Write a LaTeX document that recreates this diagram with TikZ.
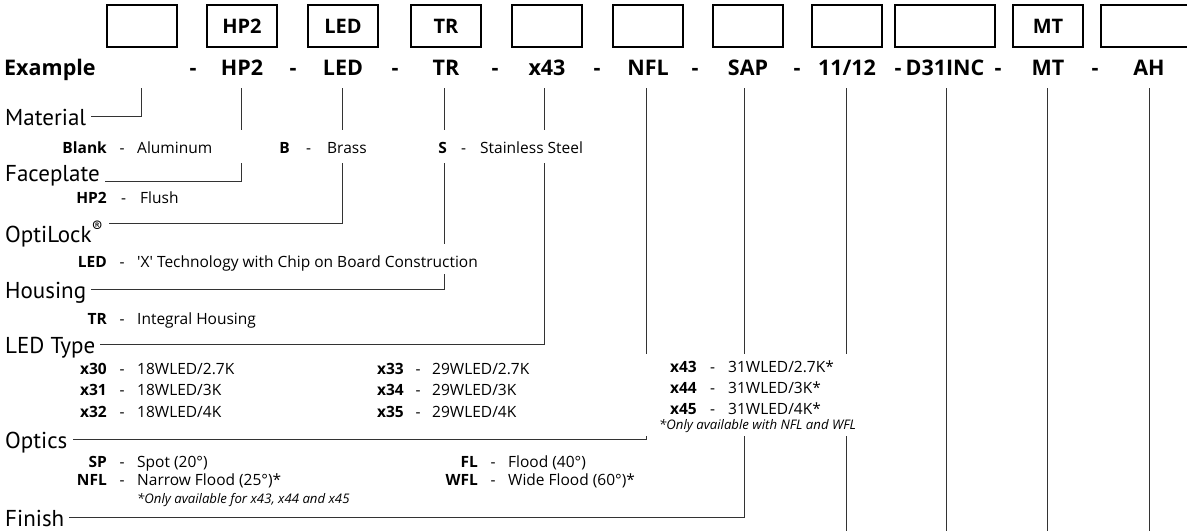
\documentclass[tikz,border=0pt]{standalone}
\usepackage{fontspec}
\setmainfont{PT Sans}
\newfontfamily\optfont{Open Sans}
\begin{document}
\begin{tikzpicture}[x=1pt,y=-1pt,
    codebox/.style={draw,line width=1.4pt,minimum height=42pt,inner sep=0pt,
      font=\optfont\fontsize{20}{20}\selectfont\bfseries},
    code/.style={anchor=base,inner sep=0pt,font=\optfont\fontsize{21.5}{21.5}\selectfont\bfseries},
    heading/.style={anchor=base west,inner xsep=5pt,inner ysep=0pt,
      text height=18pt,text depth=0pt,font=\fontsize{23}{23}\selectfont},
    key/.style={anchor=base east,inner sep=0pt,font=\optfont\fontsize{15.5}{15.5}\selectfont\bfseries},
    desc/.style={anchor=base west,inner sep=0pt,font=\optfont\fontsize{15.5}{15.5}\selectfont},
    fnote/.style={anchor=base west,inner sep=0pt,font=\optfont\fontsize{13.2}{13.2}\selectfont\itshape},
    lead/.style={draw=black!80,line width=1pt}]
  \useasboundingbox (0,0) rectangle (1187,531);

  % Code boxes, example codes and the tops of the leader lines
  \foreach \i/\x/\w/\boxtxt/\code in {1/142/70/{}/{}, 2/242/70/HP2/HP2, 3/343/70/LED/LED,
      4/446/70/TR/TR, 5/547/70/{}/x43, 6/648/70/{}/NFL, 7/748/70/{}/SAP,
      8/847/70/{}/11\slash 12, 9/945/100/{}/D31INC, 10/1048/70/MT/MT, 11/1149/96/{}/AH} {
    \node[codebox,minimum width=\w pt] (b\i) at (\x,26) {\boxtxt};
    \node[code] (c\i) at (\x,75) {\code};
  }
  \foreach \i/\x in {1/141,2/241,3/342,4/444,5/544,6/646,7/744,8/846,9/946,10/1047,11/1149}
    \coordinate (t\i) at (\x,88);
  \node[code,anchor=base west] (ex) at (4,75) {Example};
  \foreach \x [count=\k] in {193,293,395,495,597,695,797,898,998,1095}
    \node[code] (dash\k) at (\x,75) {-};

  % Headings
  \node[heading] (mat) at (0,125) {Material};
  \node[heading] (face) at (0,181) {Faceplate};
  \node[heading] (opti) at (0,242) {OptiLock\textsuperscript{®}};
  \node[heading] (hous) at (0,298) {Housing};
  \node[heading] (ledt) at (0,353) {LED Type};
  \node[heading] (optc) at (0,448) {Optics};
  \node[heading] (fin) at (0,526) {Finish};

  % Options: key - description
  \foreach \nm/\y/\kx/\tx/\key/\txt in {
      m1/153/107/137/{Blank}/{Aluminum}, m2/153/290/327/{B}/{Brass},
      m3/153/447/480/{S}/{Stainless Steel},
      f1/203/107/140/{HP2}/{Flush},
      l1/267/107/137/{LED}/{'X' Technology with Chip on Board Construction},
      h1/324/107/137/{TR}/{Integral Housing},
      t1/374/107/137/{x30}/{18WLED/2.7K}, t2/395/107/137/{x31}/{18WLED/3K},
      t3/417/107/137/{x32}/{18WLED/4K},
      t4/374/404/432/{x33}/{29WLED/2.7K}, t5/395/404/432/{x34}/{29WLED/3K},
      t6/417/404/432/{x35}/{29WLED/4K},
      t7/372/697/728/{x43}/{31WLED/2.7K*}, t8/393/697/728/{x44}/{31WLED/3K*},
      t9/414/697/728/{x45}/{31WLED/4K*},
      o1/467/107/137/{SP}/{Spot (20°)}, o2/485/107/137/{NFL}/{Narrow Flood (25°)*},
      o3/467/478/508/{FL}/{Flood (40°)}, o4/485/478/508/{WFL}/{Wide Flood (60°)*}} {
    \node[key] (k\nm) at (\kx,\y) {\key};
    \node[desc,anchor=base] (s\nm) at ({(\kx+\tx)/2},\y) {-};
    \node[desc] (d\nm) at (\tx,\y) {\txt};
  }
  \node[fnote] (ledn) at (659,429) {*Only available with NFL and WFL};
  \node[fnote] (optn) at (137,503) {*Only available for x43, x44 and x45};

  % Leader lines (gaps where option rows cross)
  \coordinate (gapAtop) at (0,130);
  \coordinate (gapAbot) at (0,163);
  \coordinate (gapBtop) at (0,244);
  \coordinate (gapBbot) at (0,274);
  \coordinate (gapCtop) at (0,354);
  \coordinate (gapCbot) at (0,436);
  \coordinate (foot) at (0,531);
  \draw[lead] (t1) |- (mat.east);
  \draw[lead] (t2) -- (t2 |- gapAtop) (t2 |- gapAbot) |- (face.base east);
  \draw[lead] (t3) -- (t3 |- gapAtop) (t3 |- gapAbot) |- (opti.north east);
  \draw[lead] (t4) -- (t4 |- gapAtop) (t4 |- gapAbot) -- (t4 |- gapBtop)
    (t4 |- gapBbot) |- (hous.east);
  \draw[lead] (t5) -- (t5 |- gapAtop) (t5 |- gapAbot) |- (ledt.east);
  \draw[lead] (t6) -- (t6 |- gapCtop) (t6 |- gapCbot) |- (optc.east);
  \draw[lead] (t7) -- (t7 |- gapCtop) (t7 |- gapCbot) |- (fin.east);
  \draw[lead] (t8) -- (t8 |- gapCtop) (t8 |- gapCbot) -- (t8 |- foot);
  \foreach \i in {9,10,11}
    \draw[lead] (t\i) -- (t\i |- foot);
\end{tikzpicture}
\end{document}
